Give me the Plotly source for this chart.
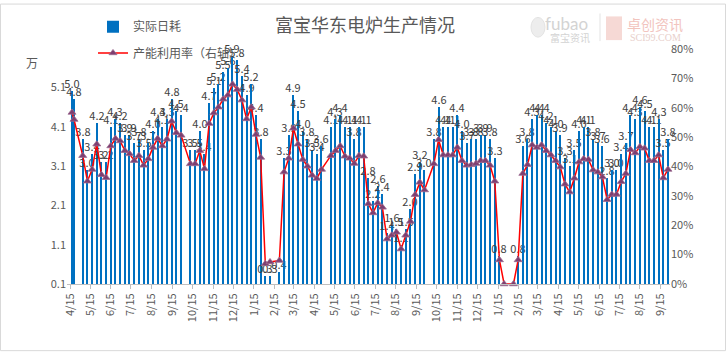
import plotly.graph_objects as go

# ---------------- data ----------------
dates = [
    "2017-04-18", "2017-04-21", "2017-05-04", "2017-05-11", "2017-05-18", "2017-05-25", "2017-06-01", "2017-06-08",
    "2017-06-15", "2017-06-22", "2017-06-29", "2017-07-06", "2017-07-13", "2017-07-20", "2017-07-27", "2017-08-03",
    "2017-08-10", "2017-08-17", "2017-08-24", "2017-08-31", "2017-09-07", "2017-09-14", "2017-09-21", "2017-09-28",
    "2017-10-12", "2017-10-19", "2017-10-26", "2017-11-02", "2017-11-09", "2017-11-16", "2017-11-23", "2017-11-30",
    "2017-12-07", "2017-12-14", "2017-12-21", "2017-12-28", "2018-01-04", "2018-01-11", "2018-01-18", "2018-01-25",
    "2018-02-01", "2018-02-08", "2018-02-22", "2018-03-01", "2018-03-08", "2018-03-15", "2018-03-22", "2018-03-29",
    "2018-04-05", "2018-04-12", "2018-04-19", "2018-04-26", "2018-05-10", "2018-05-17", "2018-05-24", "2018-05-31",
    "2018-06-07", "2018-06-14", "2018-06-21", "2018-06-28", "2018-07-05", "2018-07-12", "2018-07-19", "2018-07-26",
    "2018-08-02", "2018-08-09", "2018-08-16", "2018-08-23", "2018-08-30", "2018-09-06", "2018-09-13", "2018-09-20",
    "2018-09-27",
    "2018-10-11", "2018-10-18", "2018-10-25", "2018-11-01", "2018-11-08", "2018-11-15", "2018-11-22", "2018-11-29",
    "2018-12-06", "2018-12-13", "2018-12-20", "2018-12-27", "2019-01-03", "2019-01-10", "2019-01-17", "2019-01-24",
    "2019-02-07", "2019-02-14", "2019-02-21", "2019-02-28", "2019-03-07", "2019-03-14", "2019-03-21", "2019-03-28",
    "2019-04-04", "2019-04-11", "2019-04-18", "2019-04-25", "2019-05-02", "2019-05-09", "2019-05-16", "2019-05-23",
    "2019-05-30", "2019-06-06", "2019-06-13", "2019-06-20", "2019-06-27", "2019-07-04", "2019-07-11", "2019-07-18",
    "2019-07-25", "2019-08-01", "2019-08-08", "2019-08-15", "2019-08-22", "2019-08-29", "2019-09-05", "2019-09-12",
    "2019-09-19", "2019-09-26",
]

daily_use = [  # 实际日耗 (万)
    5.0, 4.8, 3.8, 3.0, 3.4, 4.2, 3.2, 3.2, 4.1, 4.3, 4.2, 3.9, 3.9, 3.7, 3.8, 3.5,
    3.7, 4.0, 4.3, 4.1, 4.3, 4.8, 4.5, 4.4,
    3.5, 3.5, 4.0, 3.4, 4.7, 5.1, 5.2, 5.5, 5.6, 5.9, 5.8, 5.4, 4.9, 5.2, 4.4, 3.8,
    0.3, 0.3, 0.4, 3.3, 3.9, 4.9, 4.5, 4.0, 3.8, 3.5, 3.4, 3.6,
    4.1, 4.3, 4.4, 4.1, 4.1, 3.8, 4.1, 4.1, 2.8, 2.2, 2.6, 2.4, 1.4, 1.6, 1.5, 1.1,
    1.5, 2.0, 2.9, 3.2, 3.0,
    3.8, 4.6, 4.1, 4.1, 4.1, 4.4, 4.0, 3.7, 3.8, 3.8, 3.9, 3.9, 3.8, 3.3, 0.8, 0.0,
    0.0, 0.8, 3.6, 3.8, 4.3, 4.4, 4.4, 4.2, 4.1, 4.0, 3.9, 3.3, 3.1, 3.5, 4.0, 4.1,
    4.1, 3.8, 3.7, 3.6, 2.8, 3.0, 3.0, 3.4, 3.7, 4.4, 4.3, 4.6, 4.5, 4.1, 4.1, 4.3,
    3.5, 3.8,
]

utilization = [  # 产能利用率 (%)
    58.4, 56.0, 43.7, 35.0, 39.0, 47.6, 37.2, 36.2, 47.0, 49.5, 48.7, 45.4, 44.3, 42.0, 43.7, 40.4,
    42.6, 46.5, 49.5, 47.0, 49.3, 55.4, 51.5, 50.6,
    40.9, 40.9, 45.4, 39.2, 54.6, 58.2, 60.2, 62.9, 64.3, 68.0, 66.2, 62.6, 56.2, 60.2, 50.9, 43.1,
    6.9, 7.5, 8.0, 38.1, 42.8, 53.0, 47.6, 42.4, 40.1, 37.0, 35.9, 39.0,
    43.7, 45.4, 47.0, 43.5, 42.8, 41.0, 43.7, 43.5, 27.3, 24.2, 27.6, 26.1, 15.3, 16.6, 17.6, 11.9,
    16.6, 21.3, 30.4, 34.6, 32.0,
    40.9, 49.1, 43.9, 43.9, 43.9, 46.5, 42.0, 40.4, 40.6, 41.0, 42.0, 42.0, 40.4, 35.0, 8.2, 0.0,
    0.0, 8.2, 37.6, 40.6, 47.3, 46.5, 47.3, 45.4, 43.9, 42.0, 39.8, 34.0, 31.3, 36.0, 41.5, 42.6,
    42.4, 38.8, 38.1, 36.4, 28.7, 30.5, 30.5, 34.8, 37.6, 45.7, 44.6, 46.7, 46.2, 42.0, 42.0, 43.9,
    36.1, 39.0,
]

tick_dates = [
    "2017-04-15", "2017-05-15", "2017-06-15", "2017-07-15", "2017-08-15", "2017-09-15",
    "2017-10-15", "2017-11-15", "2017-12-15", "2018-01-15", "2018-02-15", "2018-03-15",
    "2018-04-15", "2018-05-15", "2018-06-15", "2018-07-15", "2018-08-15", "2018-09-15",
    "2018-10-15", "2018-11-15", "2018-12-15", "2019-01-15", "2019-02-15", "2019-03-15",
    "2019-04-15", "2019-05-15", "2019-06-15", "2019-07-15", "2019-08-15", "2019-09-15",
]
tick_labels = [f"{int(s[5:7])}/{int(s[8:10])}" for s in tick_dates]
left_ticks = [0.1, 1.1, 2.1, 3.1, 4.1, 5.1]
right_ticks = [0, 10, 20, 30, 40, 50, 60, 70, 80]

bar_text = [f"{v:.1f}" if v > 0 else "" for v in daily_use]

# ---------------- layout helpers ----------------
W, H = 726, 352
L, R, T, B = 67, 670, 46, 284


def px(x):
    return (x - L) / (R - L)


def py(y):
    return (B - y) / (B - T)


FONT = "Noto Sans CJK SC, Noto Sans, sans-serif"
GREY = "#595959"

fig = go.Figure()

fig.add_trace(go.Bar(
    x=dates, y=daily_use, name="实际日耗",
    marker=dict(color="#0070C0", line=dict(width=0)),
    width=1.7 * 86400000,
    text=bar_text, textposition="outside", constraintext="none", cliponaxis=False,
    textfont=dict(family=FONT, size=11, color="#404040"),
    legend="legend",
))

fig.add_trace(go.Scatter(
    x=dates, y=utilization, name="产能利用率（右轴）", yaxis="y2",
    mode="lines+markers",
    line=dict(color="#FF0000", width=1.5),
    marker=dict(symbol="triangle-up", size=7, color="#7E3F70",
                line=dict(color="#9C6B90", width=0.8)),
    cliponaxis=False,
    legend="legend2",
))

fig.update_layout(
    width=W, height=H,
    margin=dict(l=L, r=W - R, t=T, b=H - B),
    paper_bgcolor="white", plot_bgcolor="white",
    font=dict(family=FONT, size=11, color=GREY),
    showlegend=True,
    legend=dict(x=px(93), y=py(23.5), xanchor="left", yanchor="middle",
                bgcolor="rgba(0,0,0,0)", font=dict(size=12, color=GREY)),
    legend2=dict(x=px(93), y=py(50), xanchor="left", yanchor="middle",
                 bgcolor="rgba(0,0,0,0)", font=dict(size=12, color=GREY)),
    xaxis=dict(
        type="date", range=["2017-04-10 12:00", "2019-09-29"],
        tickvals=tick_dates, ticktext=tick_labels, tickangle=-90,
        ticks="outside", ticklen=4, tickcolor="#BFBFBF",
        showline=True, linecolor="#BFBFBF", linewidth=1,
        showgrid=False, zeroline=False,
        tickfont=dict(size=11, color=GREY),
    ),
    yaxis=dict(
        range=[0.1, 6.08], tickvals=left_ticks, ticktext=[f"{v:.1f}" for v in left_ticks],
        showgrid=False, zeroline=False, showline=False,
        tickfont=dict(size=11, color=GREY),
    ),
    yaxis2=dict(
        range=[0, 80], tickvals=right_ticks, ticktext=[f"{v}%" for v in right_ticks],
        overlaying="y", side="right", showgrid=False, zeroline=False, showline=False,
        tickfont=dict(size=11, color=GREY),
    ),
    bargap=0,
)

annotations = [
    dict(text="富宝华东电炉生产情况", x=px(365), y=py(21), xref="paper", yref="paper",
         showarrow=False, xanchor="center", yanchor="middle",
         font=dict(family=FONT, size=18, color=GREY)),
    dict(text="万", x=px(32), y=py(60), xref="paper", yref="paper",
         showarrow=False, xanchor="center", yanchor="middle",
         font=dict(family=FONT, size=12, color=GREY)),
    dict(text="fubao", x=px(566), y=py(20), xref="paper", yref="paper",
         showarrow=False, xanchor="center", yanchor="middle",
         font=dict(family="Lato, sans-serif", size=17, color="#D3D3D3")),
    dict(text="富宝资讯", x=px(570), y=py(34), xref="paper", yref="paper",
         showarrow=False, xanchor="center", yanchor="middle",
         font=dict(family=FONT, size=10, color="#D3D3D3")),
    dict(text="卓创资讯", x=px(655), y=py(21), xref="paper", yref="paper",
         showarrow=False, xanchor="center", yanchor="middle",
         font=dict(family=FONT, size=14, color="#F2C4BE")),
    dict(text="SCI99.COM", x=px(655), y=py(34), xref="paper", yref="paper",
         showarrow=False, xanchor="center", yanchor="middle",
         font=dict(family="Liberation Serif, serif", size=10, color="#E8CFCB")),
]
fig.update_layout(annotations=annotations)

shapes = [
    dict(type="rect", xref="paper", yref="paper",
         x0=px(0.5), x1=px(725.5), y0=py(351.5), y1=py(0.5),
         line=dict(color="#D9D9D9", width=1), fillcolor="rgba(0,0,0,0)", layer="below"),
    dict(type="circle", xref="paper", yref="paper",
         x0=px(531), x1=px(545), y0=py(34), y1=py(14),
         line=dict(color="#E3E3E3", width=1), fillcolor="#EDEDED", layer="below"),
    dict(type="line", xref="paper", yref="paper",
         x0=px(600), x1=px(600), y0=py(38), y1=py(10),
         line=dict(color="#E3E3E3", width=1)),
    dict(type="rect", xref="paper", yref="paper",
         x0=px(606), x1=px(622), y0=py(37), y1=py(13),
         line=dict(width=0), fillcolor="#F6D9D5", layer="below"),
]
fig.update_layout(shapes=shapes)

fig.write_html("out.html")
